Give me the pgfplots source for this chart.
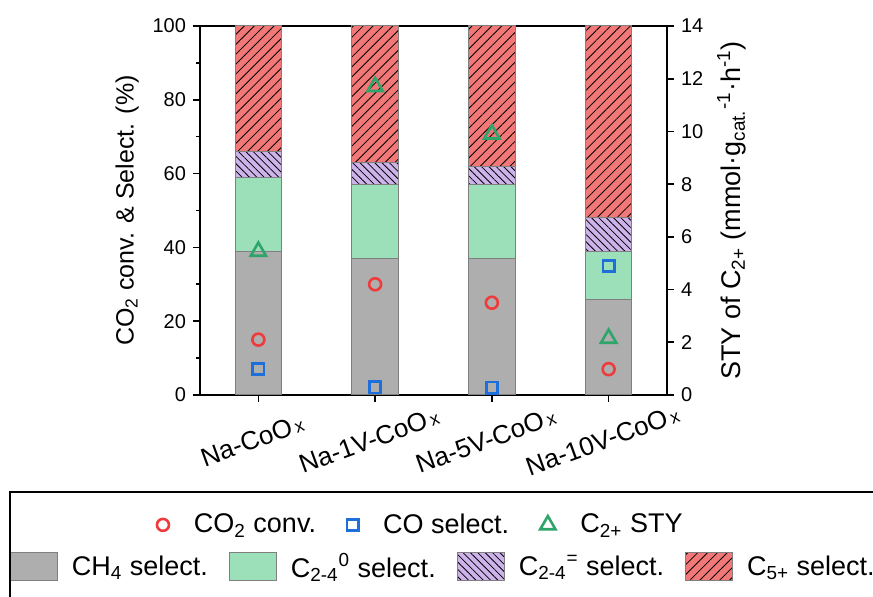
\documentclass[border=0pt]{standalone}
\usepackage{fontspec}
\setmainfont{Liberation Sans}
\usepackage{pgfplots}
\pgfplotsset{compat=1.18}
\usetikzlibrary{patterns.meta}
\definecolor{cgray}{HTML}{AEAEAE}
\definecolor{cedge}{HTML}{7F7F7F}
\definecolor{cgreen}{HTML}{9CE0BA}
\definecolor{cpurple}{HTML}{CDB3EA}
\definecolor{cred}{HTML}{F27878}
\definecolor{mred}{HTML}{EE3B3B}
\definecolor{mblue}{HTML}{1F6FDB}
\definecolor{mgreen}{HTML}{2EA56A}
\newcommand{\xs}{\kern1.5pt{\fontsize{9}{9}\selectfont x}}
\begin{document}
\begin{tikzpicture}
\useasboundingbox (-100pt,-101pt) rectangle (336.5pt,197.5pt);
\pgfplotsset{base/.style={scale only axis, width=233.5pt, height=184.5pt,
  xmin=-0.5, xmax=3.5, at={(0,0)}, anchor=south west,
  /pgf/number format/assume math mode=true,
  tick label style={font=\fontsize{10}{12}\selectfont},
  axis line style={line width=0.8pt},
  tick align=outside, major tick length=3.5pt, minor tick length=2pt,
  every tick/.style={line width=0.8pt, black}}}
% stacked bars
\begin{axis}[base, ymin=0, ymax=100, ybar stacked, bar width=0.4,
  ytick={0,20,...,100}, minor y tick num=1, tick pos=left,
  xtick={0,1,2,3},
  xticklabels={Na-CoO\xs, Na-1V-CoO\xs, Na-5V-CoO\xs, Na-10V-CoO\xs},
  x tick label style={rotate=20, anchor=center, xshift=-9.5pt, yshift=-17pt, font=\fontsize{13}{15}\selectfont},
  ylabel={CO\textsubscript{2} conv. \& Select. (\%)},
  ylabel style={font=\fontsize{12.5}{15}\selectfont},
  legend columns=-1,
  legend style={at={(-0.408,-0.466)}, anchor=west, draw=none, fill=none, inner sep=0pt,
    font=\fontsize{13.5}{16}\selectfont,
    /tikz/every odd column/.append style={column sep=5pt},
    /tikz/every even column/.append style={column sep=8.5pt}},
  legend image code/.code={\draw[#1] (0pt,-7pt) rectangle (23.5pt,7pt);}]
\addplot[fill=cgray, draw=cedge, line width=0.5pt] coordinates {(0,39) (1,37) (2,37) (3,26)};
\addlegendentry{CH\textsubscript{4} select.}
\addplot[fill=cgreen, draw=cedge, line width=0.5pt] coordinates {(0,20) (1,20) (2,20) (3,13)};
\addlegendentry{C\textsubscript{2-4}\textsuperscript{0} select.}
\addplot[fill=cpurple, draw=cedge, line width=0.5pt, postaction={pattern={Lines[angle=-45, distance=2.6pt, line width=0.4pt]}, pattern color=black}] coordinates {(0,7) (1,6) (2,5) (3,9)};
\addlegendentry{C\textsubscript{2-4}\textsuperscript{=} select.}
\addplot[fill=cred, draw=cedge, line width=0.5pt, postaction={pattern={Lines[angle=45, distance=3.5pt, line width=0.4pt]}, pattern color=black}] coordinates {(0,34) (1,37) (2,38) (3,52)};
\addlegendentry{C\textsubscript{5+} select.}
\end{axis}
% right axis: STY
\begin{axis}[base, ymin=0, ymax=14, axis y line*=right, axis x line=none,
  ytick={0,2,...,14},
  ylabel style={font=\fontsize{13.5}{16}\selectfont},
  ylabel={STY of C\textsubscript{2+} (mmol·g\textsubscript{cat.}\textsuperscript{-1}·h\textsuperscript{-1})}]
\addplot[only marks, mark=triangle, mark size=4.4pt, mgreen, line width=1.3pt] coordinates {(0,5.45) (1,11.7) (2,9.9) (3,2.15)};
\end{axis}
% markers on left scale
\begin{axis}[base, ymin=0, ymax=100, hide axis,
  legend columns=-1,
  legend style={at={(-0.093,-0.352)}, anchor=west, draw=none, fill=none, inner sep=0pt,
    font=\fontsize{13.5}{16}\selectfont,
    /tikz/every odd column/.append style={column sep=10.5pt},
    /tikz/every even column/.append style={column sep=13.5pt}},
  legend image code/.code={\draw[mark repeat=2, mark phase=2, #1] plot coordinates {(0pt,0pt) (6pt,0pt) (12pt,0pt)};}]
\addplot[only marks, mark=o, mark size=3pt, mred, line width=1.3pt] coordinates {(0,15) (1,30) (2,25) (3,7)};
\addlegendentry{CO\textsubscript{2} conv.}
\addplot[only marks, mark=square, mark size=2.8pt, mblue, line width=1.3pt] coordinates {(0,7) (1,2.1) (2,2) (3,35)};
\addlegendentry{CO select.}
\addlegendimage{only marks, mark=triangle, mark size=4.4pt, mgreen, line width=1.3pt}
\addlegendentry{C\textsubscript{2+} STY}
\end{axis}
\draw[line width=0.8pt] (-95pt,-48.5pt) rectangle (345pt,-110pt);
\end{tikzpicture}
\end{document}
